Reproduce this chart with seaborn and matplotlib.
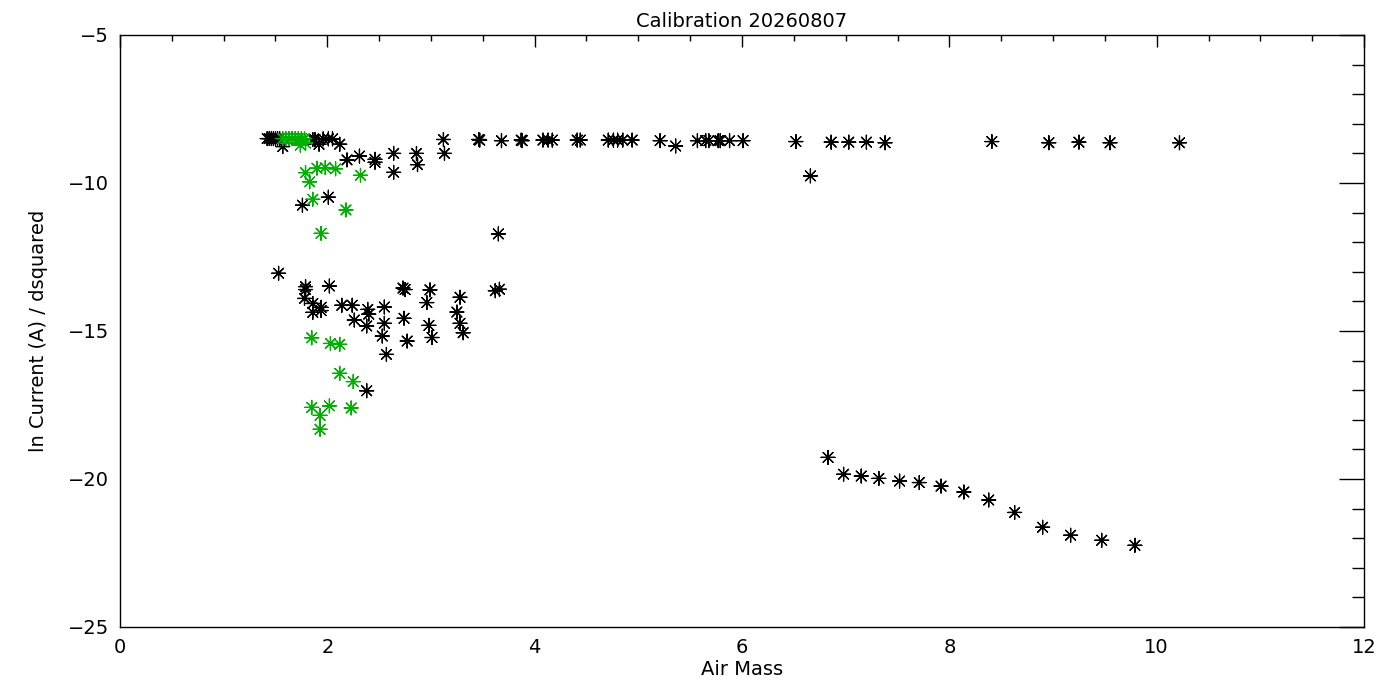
import pandas as pd
import matplotlib
matplotlib.use('Agg')
import matplotlib.pyplot as plt
import seaborn as sns
from matplotlib.ticker import MultipleLocator

# black points (air mass, ln current / d^2)
black_x = [1.42, 1.44, 1.46, 1.48, 1.50, 1.52, 1.54,
           1.57, 1.86, 1.88, 1.92, 1.96, 2.01, 2.05, 2.12,
           3.12, 3.46, 3.47, 3.68, 3.87, 3.88, 4.08, 4.13, 4.17, 4.41, 4.44,
           4.71, 4.76, 4.80, 4.85, 4.94, 5.21, 5.36, 5.57, 5.65, 5.68, 5.77, 5.79,
           5.88, 6.01, 6.52, 6.86, 7.03, 7.20, 7.38, 8.41, 8.96, 9.25, 9.55, 10.22,
           2.19, 2.31, 2.46, 2.46, 2.64, 2.64, 2.86, 2.87, 3.13, 6.66,
           1.76, 2.01, 3.65,
           1.53, 1.79, 1.79, 2.02, 2.73, 2.75, 2.99, 3.62, 3.66, 1.78, 1.86,
           1.94, 1.86, 1.94, 2.14, 2.24, 2.39, 2.40, 2.55, 2.96, 3.28, 2.26,
           2.38, 2.55, 2.74, 2.98, 3.25, 3.28, 3.31, 2.53, 2.77, 3.01, 2.57, 2.38,
           6.83, 6.98, 7.15, 7.32, 7.52, 7.71, 7.92, 8.14, 8.38, 8.63, 8.90,
           9.17, 9.47, 9.79]
black_y = [-8.50, -8.50, -8.50, -8.50, -8.50, -8.50, -8.50,
           -8.77, -8.53, -8.53, -8.69, -8.51, -8.51, -8.51, -8.69,
           -8.53, -8.53, -8.55, -8.57, -8.55, -8.57, -8.55, -8.55, -8.55, -8.55, -8.55,
           -8.55, -8.55, -8.55, -8.55, -8.55, -8.57, -8.75, -8.57, -8.57, -8.57, -8.57, -8.57,
           -8.57, -8.57, -8.60, -8.62, -8.62, -8.62, -8.64, -8.60, -8.64, -8.62, -8.64, -8.64,
           -9.22, -9.09, -9.20, -9.30, -9.00, -9.64, -9.00, -9.38, -9.00, -9.76,
           -10.75, -10.48, -11.72,
           -13.05, -13.50, -13.60, -13.48, -13.55, -13.60, -13.61, -13.64, -13.59, -13.90, -14.07,
           -14.20, -14.37, -14.31, -14.13, -14.13, -14.27, -14.43, -14.19, -14.04, -13.86, -14.63,
           -14.83, -14.74, -14.57, -14.81, -14.36, -14.74, -15.06, -15.17, -15.34, -15.22, -15.79, -17.02,
           -19.27, -19.84, -19.90, -19.98, -20.07, -20.12, -20.24, -20.44, -20.71, -21.13, -21.63,
           -21.90, -22.07, -22.24]

# green points
green_x = [1.57, 1.60, 1.63, 1.66, 1.69, 1.72, 1.75, 1.78, 1.74, 1.79,
           1.79, 1.83, 1.90, 1.98, 2.08, 2.32, 1.86, 2.18, 1.94,
           1.85, 2.03, 2.12, 2.12, 2.25, 1.85, 2.02, 2.23, 1.93, 1.93]
green_y = [-8.50, -8.50, -8.50, -8.50, -8.50, -8.50, -8.50, -8.50, -8.72, -8.65,
           -9.65, -9.96, -9.50, -9.48, -9.52, -9.74, -10.55, -10.91, -11.70,
           -15.23, -15.42, -15.45, -16.43, -16.71, -17.58, -17.53, -17.60, -17.85, -18.32]

df = pd.DataFrame({
    'airmass': black_x + green_x,
    'lncur': black_y + green_y,
    'set': ['black'] * len(black_x) + ['green'] * len(green_x),
})

sns.set_style('white')
plt.rcParams['font.family'] = ['DejaVu Sans']
plt.rcParams['text.color'] = 'black'
plt.rcParams['axes.labelcolor'] = 'black'

fig, ax = plt.subplots(figsize=(14, 7), dpi=100)
fig.subplots_adjust(left=0.0857, right=0.9743, top=0.95, bottom=0.1043)

star = (8, 2, 0)
sns.scatterplot(data=df, x='airmass', y='lncur', hue='set',
                palette={'black': 'black', 'green': '#00b000'},
                marker=star, s=100, linewidth=0.9, legend=False, ax=ax)

ax.set_xlim(0, 12)
ax.set_ylim(-25, -5)
ax.xaxis.set_major_locator(MultipleLocator(2))
ax.xaxis.set_minor_locator(MultipleLocator(0.5))
ax.yaxis.set_major_locator(MultipleLocator(5))
ax.yaxis.set_minor_locator(MultipleLocator(1))
ax.tick_params(axis='both', which='both', direction='in', top=True, right=True,
               colors='black', labelsize=14, width=1)
ax.tick_params(axis='x', which='major', length=8.6, pad=8)
ax.tick_params(axis='x', which='minor', length=4.3)
ax.tick_params(axis='y', which='major', length=18, pad=8)
ax.tick_params(axis='y', which='minor', length=9)
for sp in ax.spines.values():
    sp.set_color('black')
    sp.set_linewidth(1)

ax.set_title('Calibration 20260807', fontsize=14, pad=6, color='black')
ax.set_xlabel('Air Mass', fontsize=14, labelpad=2)
ax.set_ylabel('ln Current (A) / dsquared', fontsize=14, labelpad=14)

plt.savefig('out.png', dpi=100)
